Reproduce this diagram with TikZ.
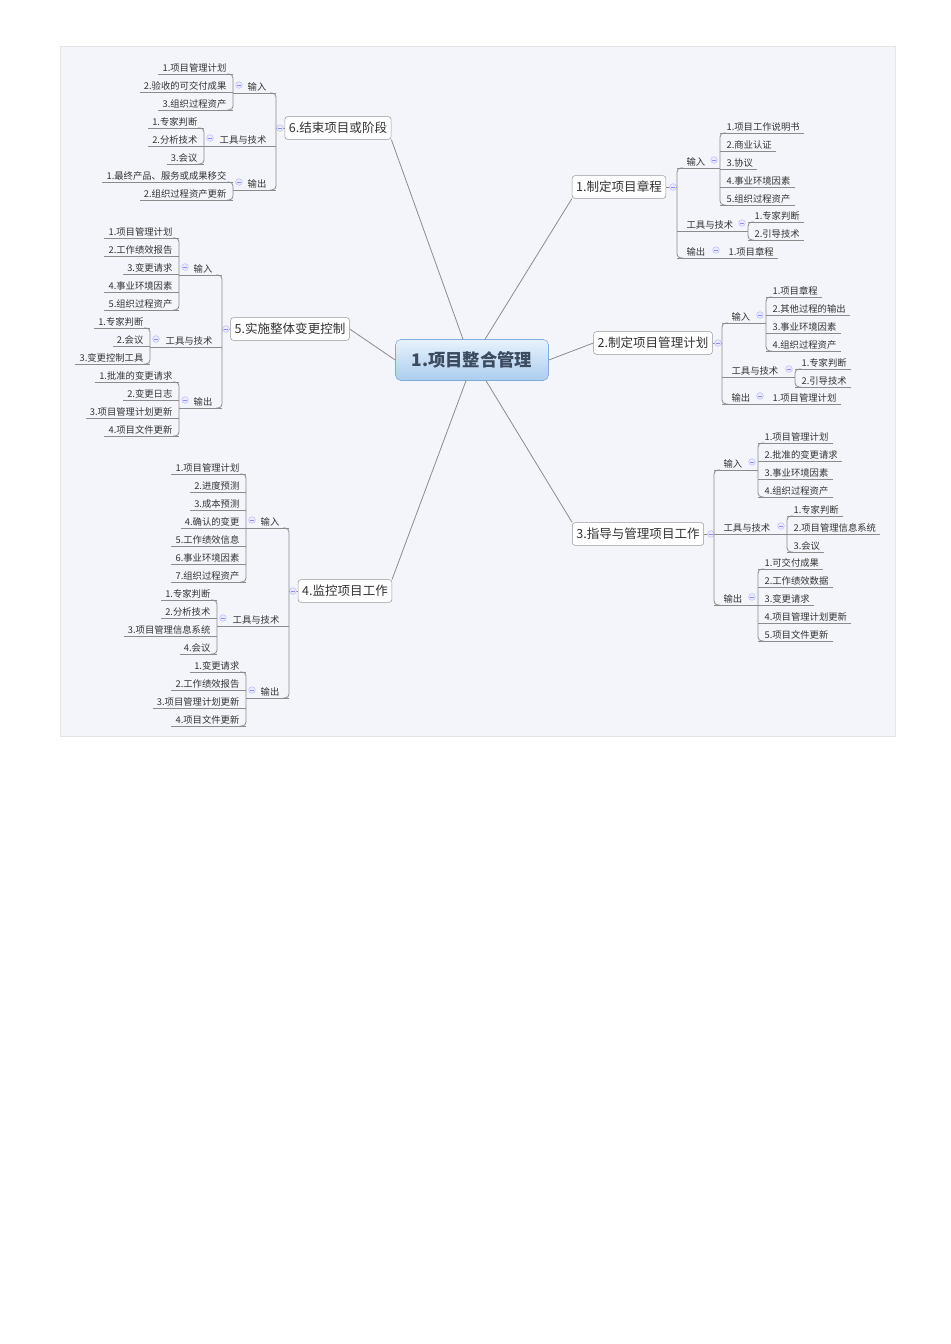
\documentclass[tikz,border=0pt]{standalone}
\usepackage{fontspec}
\setmainfont{Noto Sans CJK SC}
\definecolor{panel}{RGB}{243,245,250}
\definecolor{ctop}{RGB}{232,242,252}
\definecolor{cbot}{RGB}{170,205,238}
\definecolor{cedge}{RGB}{130,170,215}
\definecolor{ctext}{RGB}{60,75,95}
\begin{document}
\begin{tikzpicture}[x=0.75pt,y=-0.75pt,
  ln/.style={draw=black!45,line width=0.6pt},
  leaf/.style={inner sep=1pt,font=\fontsize{7}{8}\selectfont,text=black!80},
  cat/.style={inner sep=1pt,font=\fontsize{7}{8}\selectfont,text=black!80},
  br/.style={draw=black!40,fill=white,rounded corners=2pt,inner sep=3pt,font=\fontsize{9.4}{11}\selectfont,text=black!80,minimum height=17pt},
  mk/.style={circle,draw=blue!25,fill=blue!8,minimum size=5pt,inner sep=0pt,
    path picture={\draw[blue!45,line width=0.4pt] ([xshift=-1.4pt]path picture bounding box.center) -- ([xshift=1.4pt]path picture bounding box.center);}}]
\newcommand\RL[4]{\node[leaf,anchor=south west] (#1) at ({#2+5},#3) {#4}; \draw[ln] (#2,#3) -- ([xshift=2pt]#1.south east);}
\newcommand\LL[4]{\node[leaf,anchor=south east] (#1) at ({#2-5},#3) {#4}; \draw[ln] (#2,#3) -- ([xshift=-2pt]#1.south west);}
\newcommand\VR[3]{\draw[ln,rounded corners=3pt] ({#1+6},#2) -- (#1,#2) -- (#1,#3) -- ({#1+6},#3);}
\newcommand\VL[3]{\draw[ln,rounded corners=3pt] ({#1-6},#2) -- (#1,#2) -- (#1,#3) -- ({#1-6},#3);}
\newcommand\RC[5]{\node[cat,anchor=south west] (#1) at ({#2+8},#3) {#5}; \draw[ln] (#2,#3) -- (#4,#3); \node[mk] at ({#4-6},{#3-8}) {};}
\newcommand\LC[5]{\node[cat,anchor=south east] (#1) at ({#2-8},#3) {#5}; \draw[ln] (#2,#3) -- (#4,#3); \node[mk] at ({#4+6},{#3-8}) {};}
\useasboundingbox (0,0) rectangle (950,1344);
\fill[white] (0,0) rectangle (950,1344);
\draw[fill=panel,draw=black!10] (60,46) rectangle (895,736);

% center and branches
\node[draw=cedge,rounded corners=4pt,top color=ctop,bottom color=cbot,minimum width=153*0.75pt,minimum height=41*0.75pt,font=\fontsize{13}{15}\bfseries\selectfont,text=ctext] (C) at (472,360) {1.项目整合管理};
\node[br] (B1) at (619,187) {1.制定项目章程};
\node[br] (B2) at (653,343) {2.制定项目管理计划};
\node[br] (B3) at (638,534) {3.指导与管理项目工作};
\node[br] (B4) at (345,591) {4.监控项目工作};
\node[br] (B5) at (290,329) {5.实施整体变更控制};
\node[br] (B6) at (338,128) {6.结束项目或阶段};
\draw[ln] (C.north) ++(13,0) -- (B1.south west);
\draw[ln] (C.east) -- (B2.west);
\draw[ln] (C.south) ++(14,0) -- (B3.north west);
\draw[ln] (C.south) ++(-6,0) -- (B4.north east);
\draw[ln] (C.west) -- (B5.east);
\draw[ln] (C.north) ++(-9,0) -- (B6.south east);

% ---------- Branch 1
\draw[ln] (B1.east) -- (677,187); \node[mk] at (673,187) {};
\VR{677}{168}{258}
\RC{b1i}{677}{168}{720}{输入}
\VR{720}{133}{205}
\RL{b1i1}{720}{133}{1.项目工作说明书}
\RL{b1i2}{720}{151}{2.商业认证}
\RL{b1i3}{720}{169}{3.协议}
\RL{b1i4}{720}{187}{4.事业环境因素}
\RL{b1i5}{720}{205}{5.组织过程资产}
\RC{b1t}{677}{231}{748}{工具与技术}
\VR{748}{222}{240}
\RL{b1t1}{748}{222}{1.专家判断}
\RL{b1t2}{748}{240}{2.引导技术}
\RC{b1o}{677}{258}{722}{输出}
\RL{b1o1}{722}{258}{1.项目章程}

% ---------- Branch 2
\draw[ln] (B2.east) -- (722,343); \node[mk] at (718,343) {};
\VR{722}{323}{404}
\RC{b2i}{722}{323}{766}{输入}
\VR{766}{297}{351}
\RL{b2i1}{766}{297}{1.项目章程}
\RL{b2i2}{766}{315}{2.其他过程的输出}
\RL{b2i3}{766}{333}{3.事业环境因素}
\RL{b2i4}{766}{351}{4.组织过程资产}
\RC{b2t}{722}{377}{795}{工具与技术}
\VR{795}{369}{387}
\RL{b2t1}{795}{369}{1.专家判断}
\RL{b2t2}{795}{387}{2.引导技术}
\RC{b2o}{722}{404}{766}{输出}
\RL{b2o1}{766}{404}{1.项目管理计划}

% ---------- Branch 3
\draw[ln] (B3.east) -- (714,534); \node[mk] at (711,534) {};
\VR{714}{470}{605}
\RC{b3i}{714}{470}{758}{输入}
\VR{758}{443}{497}
\RL{b3i1}{758}{443}{1.项目管理计划}
\RL{b3i2}{758}{461}{2.批准的变更请求}
\RL{b3i3}{758}{479}{3.事业环境因素}
\RL{b3i4}{758}{497}{4.组织过程资产}
\RC{b3t}{714}{534}{787}{工具与技术}
\VR{787}{516}{552}
\RL{b3t1}{787}{516}{1.专家判断}
\RL{b3t2}{787}{534}{2.项目管理信息系统}
\RL{b3t3}{787}{552}{3.会议}
\RC{b3o}{714}{605}{758}{输出}
\VR{758}{569}{641}
\RL{b3o1}{758}{569}{1.可交付成果}
\RL{b3o2}{758}{587}{2.工作绩效数据}
\RL{b3o3}{758}{605}{3.变更请求}
\RL{b3o4}{758}{623}{4.项目管理计划更新}
\RL{b3o5}{758}{641}{5.项目文件更新}

% ---------- Branch 6
\draw[ln] (B6.west) -- (276,128); \node[mk] at (280,128) {};
\VL{276}{93}{190}
\LC{b6i}{276}{93}{233}{输入}
\VL{233}{74}{110}
\LL{b6i1}{233}{74}{1.项目管理计划}
\LL{b6i2}{233}{92}{2.验收的可交付成果}
\LL{b6i3}{233}{110}{3.组织过程资产}
\LC{b6t}{276}{146}{204}{工具与技术}
\VL{204}{128}{164}
\LL{b6t1}{204}{128}{1.专家判断}
\LL{b6t2}{204}{146}{2.分析技术}
\LL{b6t3}{204}{164}{3.会议}
\LC{b6o}{276}{190}{233}{输出}
\VL{233}{182}{200}
\LL{b6o1}{233}{182}{1.最终产品、服务或成果移交}
\LL{b6o2}{233}{200}{2.组织过程资产更新}

% ---------- Branch 5
\draw[ln] (B5.west) -- (222,329); \node[mk] at (226,329) {};
\VL{222}{275}{408}
\LC{b5i}{222}{275}{179}{输入}
\VL{179}{238}{310}
\LL{b5i1}{179}{238}{1.项目管理计划}
\LL{b5i2}{179}{256}{2.工作绩效报告}
\LL{b5i3}{179}{274}{3.变更请求}
\LL{b5i4}{179}{292}{4.事业环境因素}
\LL{b5i5}{179}{310}{5.组织过程资产}
\LC{b5t}{222}{347}{150}{工具与技术}
\VL{150}{328}{364}
\LL{b5t1}{150}{328}{1.专家判断}
\LL{b5t2}{150}{346}{2.会议}
\LL{b5t3}{150}{364}{3.变更控制工具}
\LC{b5o}{222}{408}{179}{输出}
\VL{179}{382}{436}
\LL{b5o1}{179}{382}{1.批准的变更请求}
\LL{b5o2}{179}{400}{2.变更日志}
\LL{b5o3}{179}{418}{3.项目管理计划更新}
\LL{b5o4}{179}{436}{4.项目文件更新}

% ---------- Branch 4
\draw[ln] (B4.west) -- (289,591); \node[mk] at (293,591) {};
\VL{289}{528}{698}
\LC{b4i}{289}{528}{246}{输入}
\VL{246}{474}{582}
\LL{b4i1}{246}{474}{1.项目管理计划}
\LL{b4i2}{246}{492}{2.进度预测}
\LL{b4i3}{246}{510}{3.成本预测}
\LL{b4i4}{246}{528}{4.确认的变更}
\LL{b4i5}{246}{546}{5.工作绩效信息}
\LL{b4i6}{246}{564}{6.事业环境因素}
\LL{b4i7}{246}{582}{7.组织过程资产}
\LC{b4t}{289}{626}{217}{工具与技术}
\VL{217}{600}{654}
\LL{b4t1}{217}{600}{1.专家判断}
\LL{b4t2}{217}{618}{2.分析技术}
\LL{b4t3}{217}{636}{3.项目管理信息系统}
\LL{b4t4}{217}{654}{4.会议}
\LC{b4o}{289}{698}{246}{输出}
\VL{246}{672}{726}
\LL{b4o1}{246}{672}{1.变更请求}
\LL{b4o2}{246}{690}{2.工作绩效报告}
\LL{b4o3}{246}{708}{3.项目管理计划更新}
\LL{b4o4}{246}{726}{4.项目文件更新}
\end{tikzpicture}
\end{document}
